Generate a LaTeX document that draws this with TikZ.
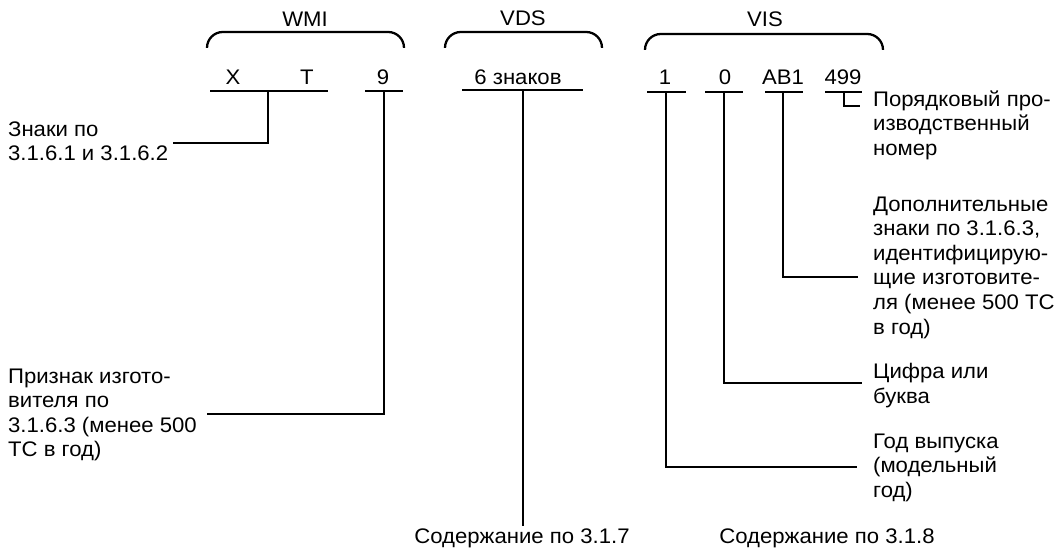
\documentclass[tikz,border=0pt]{standalone}
\usepackage{fontspec}
\setmainfont{Liberation Sans}[FakeStretch=1.05]
\begin{document}
\begin{tikzpicture}[x=0.02cm,y=-0.02cm,line width=1.3pt,
  chr/.style={anchor=base,inner sep=0pt,font=\fontsize{12}{14}\selectfont},
  note/.style={anchor=north west,inner sep=0pt,align=left,font=\fontsize{12}{14}\selectfont},
  brace/.style={rounded corners=9pt}]
\useasboundingbox (0,0) rectangle (1063,550);
\node[chr] (wmi) at (305,27){WMI};
\node[chr] (vds) at (523,25.5){VDS};
\node[chr] (vis) at (765,27){VIS};
\draw[brace] (207,48) -- (207,32) -- (404,32) -- (404,48);
\draw[brace] (445,48) -- (445,32) -- (602,32) -- (602,48);
\draw[brace] (645,50) -- (645,34) -- (883,34) -- (883,50);
\node[chr] (chX) at (233,85){X};
\node[chr] (chT) at (307,85){T};
\node[chr] (ch9) at (383,85){9};
\node[chr] (chVDS) at (518,85){6 знаков};
\node[chr] (ch1) at (665,85){1};
\node[chr] (ch0) at (725,85){0};
\node[chr] (chAB) at (783,85){AB1};
\node[chr] (ch499) at (843,85){499};
\draw (210,91) -- (328,91);
\draw (365,91) -- (403,91);
\draw (462,90) -- (583,90);
\draw (647,92) -- (686,92);
\draw (705,92) -- (743,92);
\draw (765,92) -- (803,92);
\draw (825,92) -- (862,92);
\node[note] (lblSigns) at (7,120.5){Знаки по\\3.1.6.1 и 3.1.6.2};
\node[note] (lblMaker) at (7,367.5){Признак изгото-\\вителя по\\3.1.6.3 (менее 500\\ТС в год)};
\node[note] (lblSerial) at (872,89.5){Порядковый про-\\изводственный\\номер};
\node[note] (lblExtra) at (872,195.5){Дополнительные\\знаки по 3.1.6.3,\\идентифицирую-\\щие изготовите-\\ля (менее 500 ТС\\в год)};
\node[note] (lblDigit) at (872,362.5){Цифра или\\буква};
\node[note] (lblYear) at (872,432.5){Год выпуска\\(модельный\\год)};
\node[chr] (lblVDS) at (522,544){Содержание по 3.1.7};
\node[chr] (lblVIS) at (827,544){Содержание по 3.1.8};
\coordinate (jXT) at (268,91);
\coordinate (eXT) at (173,143);
\coordinate (j9) at (384,91);
\coordinate (e9) at (207,414);
\coordinate (jVDS) at (523,90);
\coordinate (eVDS) at (523,526);
\coordinate (j1) at (666,92);
\coordinate (e1) at (857,467);
\coordinate (j0) at (724,92);
\coordinate (e0) at (862,383);
\coordinate (jAB) at (783,92);
\coordinate (eAB) at (858,277);
\coordinate (j499) at (844,92);
\coordinate (e499) at (860,106);
\draw (jXT) |- (eXT);
\draw (j9) |- (e9);
\draw (jVDS) -- (eVDS);
\draw (j1) |- (e1);
\draw (j0) |- (e0);
\draw (jAB) |- (eAB);
\draw (j499) |- (e499);
\end{tikzpicture}
\end{document}
